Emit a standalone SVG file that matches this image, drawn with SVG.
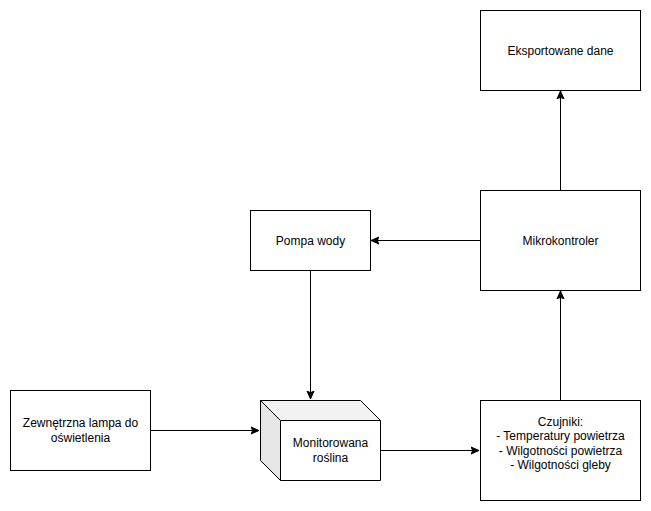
<svg xmlns="http://www.w3.org/2000/svg" width="651" height="511" viewBox="0 0 651 511">
  <style>
    .box { fill: #ffffff; stroke: #000000; stroke-width: 1; }
    .edge { fill: none; stroke: #000000; stroke-width: 1; }
    .label { font-family: "Liberation Sans", Arial, sans-serif; font-size: 12px; fill: #000000; text-anchor: middle; }
  </style>
  <defs>
    <marker id="arrow" viewBox="0 0 10 10" refX="8" refY="5" markerWidth="10" markerHeight="10" markerUnits="userSpaceOnUse" orient="auto">
      <path d="M8,5 L0,1.5 L1.75,5 L0,8.5 Z" fill="#000000" stroke="#000000" stroke-width="1"/>
    </marker>
  </defs>
  <rect width="651" height="511" fill="#ffffff"/>

  <g id="connectors">
    <path class="edge" d="M560.5,190 L560.5,91" marker-end="url(#arrow)"/>
    <path class="edge" d="M480,240.5 L371,240.5" marker-end="url(#arrow)"/>
    <path class="edge" d="M310.5,270 L310.5,399" marker-end="url(#arrow)"/>
    <path class="edge" d="M150,430.5 L259,430.5" marker-end="url(#arrow)"/>
    <path class="edge" d="M380,450.5 L479,450.5" marker-end="url(#arrow)"/>
    <path class="edge" d="M560.5,400 L560.5,291" marker-end="url(#arrow)"/>
  </g>

  <g id="eksportowane-dane">
    <rect class="box" x="480.5" y="10.5" width="160" height="80"/>
    <text class="label" x="560.5" y="54.5">Eksportowane dane</text>
  </g>

  <g id="mikrokontroler">
    <rect class="box" x="480.5" y="190.5" width="160" height="100"/>
    <text class="label" x="560.5" y="244.5">Mikrokontroler</text>
  </g>

  <g id="pompa-wody">
    <rect class="box" x="250.5" y="210.5" width="120" height="60"/>
    <text class="label" x="310.5" y="244.5">Pompa wody</text>
  </g>

  <g id="lampa">
    <rect class="box" x="10.5" y="390.5" width="140" height="80"/>
    <text class="label" x="80.5" y="427">Zewnętrzna lampa do</text>
    <text class="label" x="80.5" y="441.5">oświetlenia</text>
  </g>

  <g id="monitorowana-roslina">
    <!-- cube: top face, left face, front face -->
    <path d="M260.5,400.5 L360.5,400.5 L380.5,420.5 L280.5,420.5 Z" fill="#f2f2f2" stroke="none"/>
    <path d="M260.5,400.5 L280.5,420.5 L280.5,480.5 L260.5,460.5 Z" fill="#e6e6e6" stroke="none"/>
    <rect x="280.5" y="420.5" width="100" height="60" fill="#ffffff" stroke="none"/>
    <path class="edge" d="M260.5,400.5 L360.5,400.5 L380.5,420.5 L380.5,480.5 L280.5,480.5 L260.5,460.5 Z"/>
    <path class="edge" d="M260.5,400.5 L280.5,420.5 L380.5,420.5 M280.5,420.5 L280.5,480.5"/>
    <text class="label" x="330.5" y="447">Monitorowana</text>
    <text class="label" x="330.5" y="461.5">roślina</text>
  </g>

  <g id="czujniki">
    <rect class="box" x="480.5" y="400.5" width="160" height="100"/>
    <text class="label" x="560.5" y="425.5">Czujniki:</text>
    <text class="label" x="560.5" y="440">- Temperatury powietrza</text>
    <text class="label" x="560.5" y="454.5">- Wilgotności powietrza</text>
    <text class="label" x="560.5" y="469">- Wilgotności gleby</text>
  </g>
</svg>
